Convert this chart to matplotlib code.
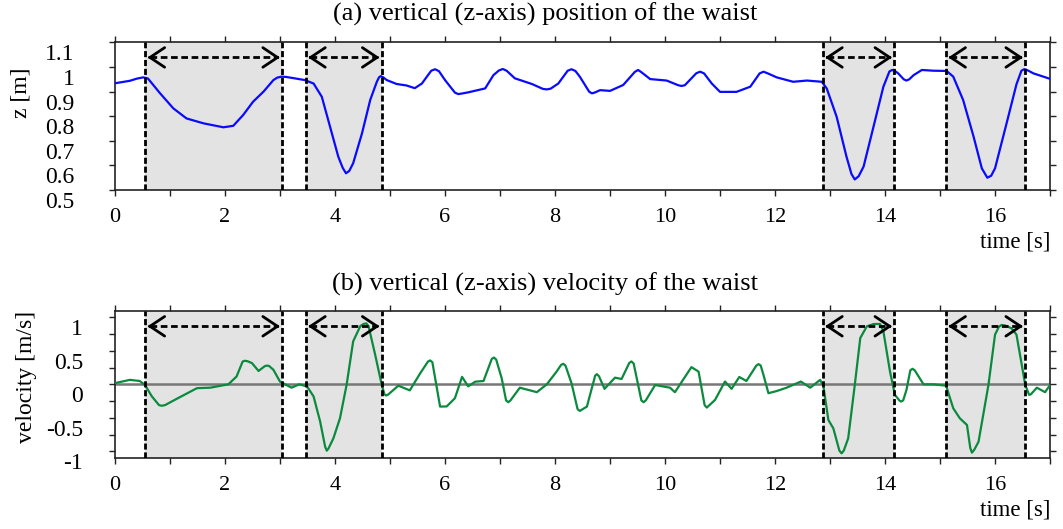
import matplotlib
matplotlib.use('Agg')
import matplotlib.pyplot as plt
from matplotlib.ticker import MultipleLocator, FixedLocator
from matplotlib.transforms import ScaledTranslation

plt.rcParams['font.family'] = ['Liberation Serif', 'DejaVu Serif']

# shaded phases (start, end) in seconds
phase_start = [0.55, 3.47, 12.87, 15.11]
phase_end = [3.04, 4.85, 14.17, 16.55]

# (a) waist height [m]
t_z = [0.0, 0.27, 0.40, 0.515, 0.60, 0.82, 1.06, 1.30, 1.61, 1.97, 2.15, 2.33,
       2.51, 2.70, 2.88, 2.95, 3.03, 3.10, 3.24, 3.45, 3.61, 3.76, 3.91, 4.06,
       4.14, 4.20, 4.26, 4.33, 4.49, 4.64, 4.76, 4.80, 4.83, 4.87, 4.94, 5.12,
       5.30, 5.45, 5.58, 5.70, 5.75, 5.82, 5.89, 6.00, 6.18, 6.24, 6.30, 6.42,
       6.73, 6.88, 6.98, 7.05, 7.12, 7.27, 7.58, 7.78, 7.85, 7.92, 8.06, 8.23,
       8.30, 8.37, 8.45, 8.62, 8.67, 8.72, 8.82, 9.00, 9.24, 9.45, 9.51, 9.57,
       9.73, 10.03, 10.24, 10.30, 10.36, 10.57, 10.64, 10.71, 10.85, 11.00,
       11.15, 11.30, 11.55, 11.72, 11.79, 11.86, 12.03, 12.33, 12.58, 12.85,
       12.94, 13.12, 13.30, 13.39, 13.45, 13.52, 13.61, 13.79, 13.97, 14.08,
       14.13, 14.18, 14.24, 14.34, 14.39, 14.44, 14.52, 14.67, 14.88, 15.12,
       15.24, 15.42, 15.61, 15.76, 15.86, 15.93, 16.00, 16.21, 16.39, 16.48,
       16.53, 16.58, 16.70, 17.00]
z = [0.934, 0.944, 0.953, 0.958, 0.953, 0.893, 0.832, 0.791, 0.771, 0.755,
     0.761, 0.805, 0.859, 0.900, 0.947, 0.957, 0.961, 0.960, 0.955, 0.947,
     0.933, 0.879, 0.757, 0.635, 0.590, 0.568, 0.578, 0.609, 0.730, 0.866,
     0.940, 0.958, 0.963, 0.959, 0.947, 0.931, 0.925, 0.914, 0.933, 0.970,
     0.985, 0.991, 0.983, 0.947, 0.896, 0.890, 0.892, 0.897, 0.913, 0.967,
     0.986, 0.992, 0.985, 0.954, 0.931, 0.911, 0.909, 0.912, 0.933, 0.985,
     0.991, 0.984, 0.961, 0.900, 0.893, 0.896, 0.906, 0.903, 0.927, 0.980,
     0.988, 0.979, 0.951, 0.945, 0.926, 0.923, 0.926, 0.975, 0.981, 0.974,
     0.933, 0.899, 0.899, 0.899, 0.920, 0.974, 0.981, 0.975, 0.958, 0.940,
     0.945, 0.940, 0.913, 0.798, 0.635, 0.565, 0.543, 0.556, 0.595, 0.757,
     0.920, 0.982, 0.988, 0.984, 0.974, 0.950, 0.945, 0.950, 0.967, 0.988,
     0.985, 0.984, 0.961, 0.866, 0.717, 0.588, 0.550, 0.558, 0.588, 0.771,
     0.930, 0.985, 0.991, 0.988, 0.974, 0.952]

# (b) waist vertical velocity [m/s]
t_v = [0.00, 0.27, 0.45, 0.545, 0.67, 0.80, 0.85, 0.91, 1.12, 1.49, 1.73, 2.06,
       2.21, 2.32, 2.36, 2.41, 2.49, 2.61, 2.72, 2.76, 2.80, 2.88, 3.00, 3.21,
       3.35, 3.49, 3.61, 3.73, 3.82, 3.85, 3.88, 3.97, 4.09, 4.21, 4.33, 4.46,
       4.52, 4.57, 4.61, 4.73, 4.85, 4.90, 4.93, 4.97, 5.15, 5.36, 5.55, 5.69,
       5.73, 5.77, 5.91, 6.03, 6.18, 6.31, 6.42, 6.55, 6.70, 6.85, 6.89, 6.93,
       7.03, 7.11, 7.15, 7.19, 7.36, 7.67, 7.85, 8.03, 8.11, 8.15, 8.19, 8.30,
       8.41, 8.45, 8.58, 8.73, 8.76, 8.80, 8.90, 9.09, 9.21, 9.35, 9.39, 9.43,
       9.57, 9.61, 9.65, 9.82, 10.09, 10.18, 10.48, 10.61, 10.72, 10.76, 10.91,
       11.09, 11.21, 11.35, 11.48, 11.66, 11.70, 11.74, 11.79, 11.88, 12.03,
       12.21, 12.47, 12.64, 12.82, 12.88, 12.97, 13.06, 13.17, 13.21, 13.25,
       13.33, 13.45, 13.55, 13.67, 13.79, 13.91, 13.97, 14.09, 14.18, 14.26,
       14.29, 14.33, 14.39, 14.46, 14.50, 14.54, 14.70, 14.88, 15.11, 15.24,
       15.36, 15.49, 15.55, 15.58, 15.62, 15.70, 15.88, 16.00, 16.07, 16.12,
       16.18, 16.30, 16.39, 16.55, 16.62, 16.65, 16.76, 16.91, 17.00]
v = [0.018, 0.067, 0.050, -0.01, -0.18, -0.31, -0.32, -0.31, -0.217, -0.057,
     -0.05, 0.0, 0.117, 0.34, 0.352, 0.345, 0.317, 0.20, 0.27, 0.28, 0.275,
     0.217, 0.04, -0.05, 0.0, -0.03, -0.18, -0.557, -0.93, -0.99, -0.96,
     -0.807, -0.507, -0.01, 0.642, 0.87, 0.902, 0.91, 0.867, 0.442, -0.01,
     -0.15, -0.167, -0.15, -0.02, -0.09, 0.167, 0.34, 0.357, 0.33, -0.332,
     -0.33, -0.207, 0.112, -0.03, 0.04, 0.05, 0.38, 0.40, 0.37, 0.092, -0.24,
     -0.267, -0.24, -0.05, -0.117, 0.0, 0.192, 0.29, 0.307, 0.28, 0.017,
     -0.37, -0.397, -0.332, 0.13, 0.152, 0.12, -0.067, 0.10, 0.08, 0.32,
     0.342, 0.31, -0.24, -0.267, -0.24, -0.01, -0.05, -0.117, 0.257, 0.19,
     -0.31, -0.347, -0.232, 0.042, -0.067, 0.11, 0.05, 0.28, 0.302, 0.28,
     0.14, -0.132, -0.10, -0.05, 0.042, -0.05, 0.067, -0.03, -0.532, -0.657,
     -0.99, -1.03, -0.99, -0.807, -0.01, 0.692, 0.867, 0.90, 0.902, 0.792,
     0.192, -0.157, -0.24, -0.257, -0.24, -0.082, 0.21, 0.232, 0.21, 0.0,
     0.0, -0.02, -0.357, -0.507, -0.607, -0.95, -1.02, -0.98, -0.857, -0.01,
     0.742, 0.86, 0.887, 0.88, 0.837, 0.742, -0.01, -0.157, -0.15, -0.05,
     -0.117, -0.01]

z_ticks = [0.5, 0.6, 0.7, 0.8, 0.9, 1.0, 1.1]
z_labels = ['0.5', '0.6', '0.7', '0.8', '0.9', '1', '1.1']
v_ticks = [-1, -0.5, 0, 0.5, 1]
v_labels = ['-1', '-0.5', '0', '0.5', '1']

dash = (0, (2.2, 1.0))

fig = plt.figure(figsize=(10.63, 5.29), dpi=100)
ax1 = fig.add_axes([0.1082, 0.6408, 0.8796, 0.2790])
ax2 = fig.add_axes([0.1082, 0.1342, 0.8796, 0.2785])


def decorate(ax, arrow_y, ypad):
    for s, e in zip(phase_start, phase_end):
        ax.axvspan(s, e, color='#e3e3e3', lw=0, zorder=0)
        ax.axvline(s, color='k', lw=2, ls=dash, zorder=4)
        ax.axvline(e, color='k', lw=2, ls=dash, zorder=4)
        # dashed shaft + open heads
        ax.plot([s + 0.08, e - 0.08], [arrow_y, arrow_y], color='k', lw=2,
                ls=(0, (2.4, 1.3)), zorder=5)
        style = '->,head_length=0.48,head_width=0.32'
        ax.annotate('', xy=(s + 0.04, arrow_y), xytext=(s + 0.12, arrow_y),
                    arrowprops=dict(arrowstyle=style, lw=2, color='k',
                                    shrinkA=0, shrinkB=0, mutation_scale=22),
                    zorder=6)
        ax.annotate('', xy=(e - 0.04, arrow_y), xytext=(e - 0.12, arrow_y),
                    arrowprops=dict(arrowstyle=style, lw=2, color='k',
                                    shrinkA=0, shrinkB=0, mutation_scale=22),
                    zorder=6)
    ax.set_xlim(0, 17)
    ax.xaxis.set_major_locator(MultipleLocator(2))
    ax.xaxis.set_minor_locator(MultipleLocator(1))
    ax.tick_params(which='both', direction='out', length=4, width=1,
                   top=True, right=True, color='#222222')
    ax.tick_params(axis='x', labelsize=16, pad=9)
    ax.tick_params(axis='y', labelsize=17, pad=ypad)
    for sp in ax.spines.values():
        sp.set_linewidth(1.2)
        sp.set_color('#222222')
    ax.text(1.0, -0.352, 'time [s]', transform=ax.transAxes, ha='right',
            va='center', fontsize=16.5)


# (a)
ax1.plot(t_z, z, color='#0a0aff', lw=1.6, zorder=3)
ax1.set_ylim(0.5, 1.1)
ax1.yaxis.set_major_locator(FixedLocator(z_ticks))
ax1.set_yticklabels(z_labels)
decorate(ax1, 1.039, 25)
ax1.set_ylabel('z [m]', fontsize=17)
ax1.yaxis.set_label_coords(-0.0888, 0.657)

# (b)
ax2.axhline(0, color='#777777', lw=1.8, zorder=2)
ax2.plot(t_v, v, color='#0b8a3e', lw=1.6, zorder=3)
ax2.set_ylim(-1.1, 1.1)
ax2.yaxis.set_major_locator(FixedLocator(v_ticks))
ax2.yaxis.set_minor_locator(MultipleLocator(0.25))
ax2.set_yticklabels(v_labels)
decorate(ax2, 0.867, 19)
ax2.set_ylabel('velocity [m/s]', fontsize=17)
ax2.yaxis.set_label_coords(-0.0834, 0.55)

# gnuplot-like: y tick labels sit a bit below their ticks
off = ScaledTranslation(0, -0.10, fig.dpi_scale_trans)
for ax in (ax1, ax2):
    for lab in ax.get_yticklabels():
        lab.set_transform(lab.get_transform() + off)

fig.text(545 / 1063, 1 - 14.5 / 529, '(a) vertical (z-axis) position of the waist',
         ha='center', va='center', fontsize=19)
fig.text(545 / 1063, 1 - 284 / 529, '(b) vertical (z-axis) velocity of the waist',
         ha='center', va='center', fontsize=19)

fig.savefig('out.png', dpi=100)
